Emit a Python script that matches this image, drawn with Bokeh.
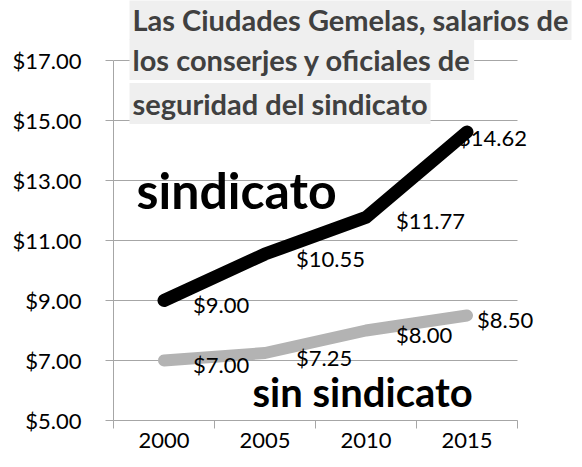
from bokeh.plotting import figure
from bokeh.models import Range1d, FixedTicker, ColumnDataSource, Label, NumeralTickFormatter
from bokeh.core.properties import value
from bokeh.embed import file_html
from bokeh.resources import INLINE

# ---- data ----
years = [2000, 2005, 2010, 2015]
union_wages = [9.00, 10.55, 11.77, 14.62]
nonunion_wages = [7.00, 7.25, 8.00, 8.50]
y_ticks = [5, 7, 9, 11, 13, 15, 17]
title_lines = ["Las Ciudades Gemelas, salarios de",
               "los conserjes y oficiales de",
               "seguridad del sindicato"]
union_name = "sindicato"
nonunion_name = "sin sindicato"

# label placement (screen px)
union_dx = [29, 31, 30, -9]
union_dy = [4, 4, 3, 6]
nonunion_dx = [29, 31, 30, 10]
nonunion_dy = [4, 4, 4, 4]

FONT = "Lato"
GRID = "#a6a6a6"
X0, X1 = 1997.5, 2017.5          # category boundaries (axis extent)
Y0, Y1 = y_ticks[0], y_ticks[-1]

p = figure(width=582, height=467,
           x_range=Range1d(X0, X0 + 469 / 20.2), y_range=Range1d(Y0, Y0 + 420 / 30),
           output_backend="svg", toolbar_location=None,
           min_border_left=113, min_border_right=0, min_border_top=0, min_border_bottom=47)
p.outline_line_color = None
p.background_fill_color = "white"
p.border_fill_color = "white"

# axes
p.xaxis.ticker = FixedTicker(ticks=years, minor_ticks=[y - 2.5 for y in years] + [years[-1] + 2.5])
p.xaxis.bounds = (X0, X1)
p.xaxis.major_tick_line_color = None
p.xaxis.major_tick_out = 8
p.xaxis.major_tick_in = 0
p.xaxis.minor_tick_out = 8
p.xaxis.minor_tick_in = 0
p.xaxis.minor_tick_line_color = GRID
p.xaxis.axis_line_color = GRID
p.xaxis.major_label_standoff = 4
p.xaxis.major_label_text_font = FONT
p.xaxis.major_label_text_font_size = "22px"
p.xaxis.major_label_text_color = "black"

p.yaxis.ticker = FixedTicker(ticks=y_ticks, minor_ticks=[])
p.yaxis.bounds = (Y0, Y1)
p.yaxis.formatter = NumeralTickFormatter(format="$0.00")
p.yaxis.major_tick_out = 8
p.yaxis.major_tick_in = 0
p.yaxis.major_tick_line_color = GRID
p.yaxis.minor_tick_line_color = None
p.yaxis.axis_line_color = GRID
p.yaxis.major_label_standoff = 24
p.yaxis.major_label_text_font = FONT
p.yaxis.major_label_text_font_size = "22px"
p.yaxis.major_label_text_color = "black"

p.xgrid.grid_line_color = None
p.ygrid.grid_line_color = None

# horizontal gridlines limited to the category extent
p.segment(x0=[X0] * len(y_ticks), x1=[X1] * len(y_ticks), y0=y_ticks, y1=y_ticks,
          line_color=GRID, line_width=1, level="underlay")

# sources
src_u = ColumnDataSource(dict(x=years, y=union_wages,
                              t=[f"${v:.2f}" for v in union_wages], dx=union_dx, dy=union_dy))
src_n = ColumnDataSource(dict(x=years, y=nonunion_wages,
                              t=[f"${v:.2f}" for v in nonunion_wages], dx=nonunion_dx, dy=nonunion_dy))

p.line('x', 'y', source=src_n, line_width=12, line_color="#b3b3b3", line_cap="round", line_join="round")
for s in (src_n, src_u):
    p.text('x', 'y', text='t', x_offset='dx', y_offset='dy', source=s,
           text_font=value(FONT), text_font_size="22px", text_color="black",
           text_align="left", text_baseline="middle")
p.line('x', 'y', source=src_u, line_width=13, line_color="black", line_cap="round", line_join="miter")

# big series labels
p.add_layout(Label(x=23, y=231, x_units="screen", y_units="screen", text=union_name,
                   text_font=FONT, text_font_style="bold", text_font_size="50px",
                   text_color="black", text_baseline="middle"))
p.add_layout(Label(x=139, y=29, x_units="screen", y_units="screen", text=nonunion_name,
                   text_font=FONT, text_font_style="bold", text_font_size="40px",
                   text_color="black", text_baseline="middle"))

# title lines with light background
for line, yy in zip(title_lines, [401, 361, 317]):
    p.add_layout(Label(x=16, y=yy, x_units="screen", y_units="screen", text=line,
                       text_font=FONT, text_font_style="bold", text_font_size="29px",
                       text_color="#404040", text_baseline="middle",
                       background_fill_color="#efefef", padding=3))

open("out.html", "w").write(file_html(p, INLINE))
